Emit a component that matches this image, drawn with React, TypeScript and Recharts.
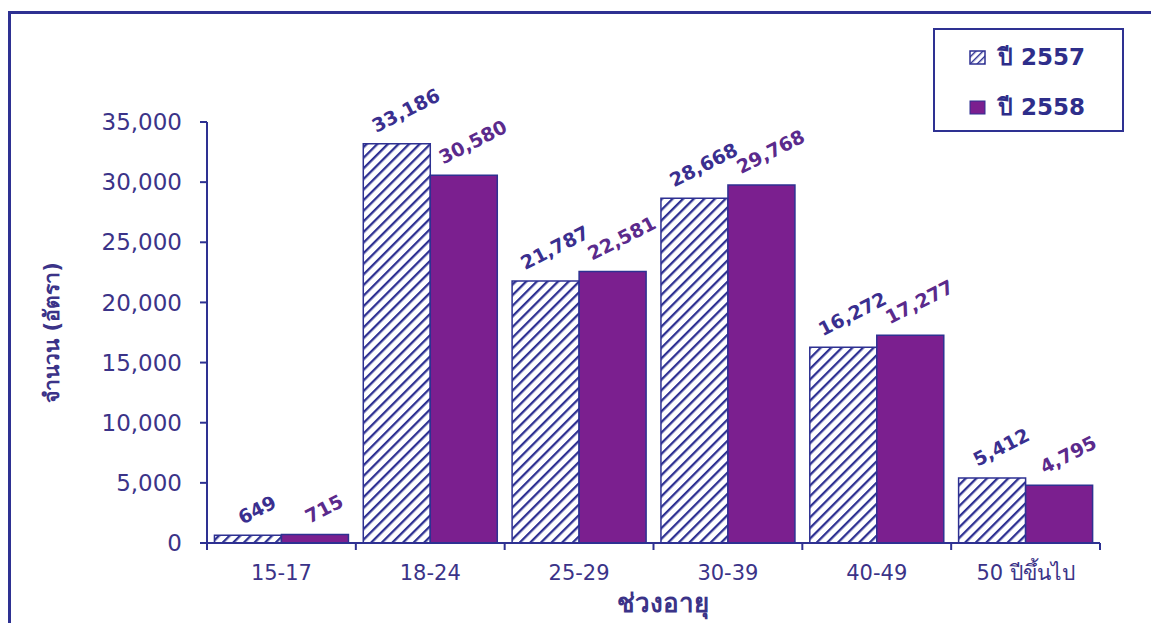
import React from "react";
import { BarChart, Bar, XAxis, YAxis, LabelList } from "recharts";

const categories = ["15-17", "18-24", "25-29", "30-39", "40-49", "50 ปีขึ้นไป"];
const year2557 = [649, 33186, 21787, 28668, 16272, 5412];
const year2558 = [715, 30580, 22581, 29768, 17277, 4795];
const yTicks = [0, 5000, 10000, 15000, 20000, 25000, 30000, 35000];

const data = categories.map((c, i) => ({ name: c, y2557: year2557[i], y2558: year2558[i] }));

const NAVY = "#2e3192";
const PURPLE = "#7b1f8f";
const TEXT = "#3b3388";
const FONT = "Tahoma, 'DejaVu Sans', 'Noto Sans', sans-serif";

const fmt = (v: number) => v.toLocaleString("en-US");

function makeLabel(color: string) {
  return (props: any) => {
    const { x, y, width, value } = props;
    const s = fmt(Number(value));
    const cx = x + width / 2 + 9;
    const cy = y - (18 + s.length * 2.6);
    return (
      <text
        x={cx}
        y={cy}
        transform={`rotate(-27 ${cx} ${cy})`}
        textAnchor="middle"
        dominantBaseline="central"
        fill={color}
        fontSize={19}
        fontWeight="bold"
        fontFamily={FONT}
      >
        {s}
      </text>
    );
  };
}

// category labels; tick marks sit on the band edges
function CatTick(props: any) {
  const { x, y, payload, index } = props;
  const step = (1100 - 207) / categories.length;
  return (
    <g>
      <line x1={x - step / 2} y1={y} x2={x - step / 2} y2={y + 7} stroke={NAVY} strokeWidth={2} />
      {index === categories.length - 1 && (
        <line x1={x + step / 2} y1={y} x2={x + step / 2} y2={y + 7} stroke={NAVY} strokeWidth={2} />
      )}
      <text x={x} y={y + 37} textAnchor="middle" fill={TEXT} fontSize={21} fontFamily={FONT}>
        {payload.value}
      </text>
    </g>
  );
}

function YTitle(props: any) {
  const { viewBox } = props;
  const cx = 52;
  const cy = viewBox.y + viewBox.height / 2;
  return (
    <text
      x={cx}
      y={cy}
      transform={`rotate(-90 ${cx} ${cy})`}
      textAnchor="middle"
      dominantBaseline="central"
      fill={TEXT}
      fontSize={21}
      fontWeight="bold"
      fontFamily={FONT}
    >
      จำนวน (อัตรา)
    </text>
  );
}

function XTitle(props: any) {
  const { viewBox } = props;
  return (
    <text
      x={viewBox.x + viewBox.width / 2 + 9}
      y={612}
      textAnchor="middle"
      fill={TEXT}
      fontSize={26}
      fontWeight="bold"
      fontFamily={FONT}
    >
      ช่วงอายุ
    </text>
  );
}

function LegendBox() {
  const row = { display: "flex", alignItems: "center", height: 50 } as const;
  return (
    <div
      style={{
        position: "absolute",
        left: 933,
        top: 28,
        width: 191,
        height: 104,
        border: `2px solid ${NAVY}`,
        background: "#fff",
        boxSizing: "border-box",
        padding: "2px 0 0 34px",
        fontFamily: FONT,
        fontWeight: "bold",
        fontSize: 23,
        color: "#2e2e8a",
      }}
    >
      <div style={row}>
        <svg width={17} height={15} style={{ marginRight: 12 }}>
          <defs>
            <pattern id="hatchL" patternUnits="userSpaceOnUse" width="5" height="5" patternTransform="rotate(45)">
              <rect width="5" height="5" fill="#fff" />
              <line x1="0" y1="0" x2="0" y2="5" stroke={NAVY} strokeWidth="2.8" />
            </pattern>
          </defs>
          <rect x={1} y={1} width={15} height={13} fill="url(#hatchL)" stroke={NAVY} strokeWidth={1.5} />
        </svg>
        ปี 2557
      </div>
      <div style={row}>
        <svg width={17} height={15} style={{ marginRight: 12 }}>
          <rect x={1} y={1} width={15} height={13} fill={PURPLE} stroke={NAVY} strokeWidth={1} />
        </svg>
        ปี 2558
      </div>
    </div>
  );
}

export default function App() {
  return (
    <div style={{ position: "absolute", left: 0, top: 0, width: 1151, height: 623, background: "#fff", overflow: "hidden" }}>
      <div
        style={{
          position: "absolute",
          left: 8,
          top: 11,
          width: 1160,
          height: 640,
          border: `3px solid ${NAVY}`,
          boxSizing: "border-box",
        }}
      />
      <BarChart
        width={1151}
        height={623}
        data={data}
        margin={{ top: 122, right: 51, bottom: 0, left: 0 }}
        barGap={0}
        barCategoryGap="5%"
        style={{ position: "absolute", left: 0, top: 0 }}
      >
        <defs>
          <pattern id="hatch" patternUnits="userSpaceOnUse" width="7.5" height="7.5" patternTransform="rotate(45)">
            <rect width="7.5" height="7.5" fill="#fff" />
            <line x1="0" y1="0" x2="0" y2="7.5" stroke={NAVY} strokeWidth="4.6" />
          </pattern>
        </defs>
        <XAxis
          dataKey="name"
          height={80}
          axisLine={{ stroke: NAVY, strokeWidth: 2 }}
          tickLine={false}
          tickSize={0}
          tickMargin={0}
          tick={<CatTick />}
          interval={0}
          label={<XTitle />}
        />
        <YAxis
          width={207}
          domain={[0, 35000]}
          ticks={yTicks}
          tickFormatter={fmt}
          axisLine={{ stroke: NAVY, strokeWidth: 2 }}
          tickLine={{ stroke: NAVY, strokeWidth: 2 }}
          tickSize={7}
          tickMargin={18}
          tick={{ fill: TEXT, fontSize: 23, fontFamily: FONT }}
          label={<YTitle />}
        />
        <Bar dataKey="y2557" name="ปี 2557" fill="url(#hatch)" stroke={NAVY} strokeWidth={1.5} isAnimationActive={false}>
          <LabelList dataKey="y2557" content={makeLabel("#3a2f8f")} />
        </Bar>
        <Bar dataKey="y2558" name="ปี 2558" fill={PURPLE} stroke={NAVY} strokeWidth={1.5} isAnimationActive={false}>
          <LabelList dataKey="y2558" content={makeLabel("#5b2a8c")} />
        </Bar>
      </BarChart>
      <LegendBox />
    </div>
  );
}
